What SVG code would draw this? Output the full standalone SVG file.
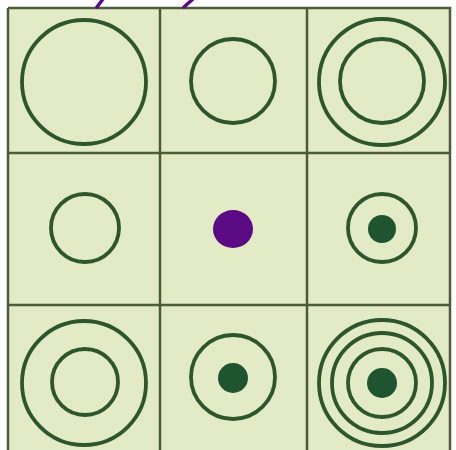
<svg xmlns="http://www.w3.org/2000/svg" width="456" height="450" viewBox="0 0 456 450">
<style>
.bg{fill:#e3ebc6}
.grid{stroke:#4a5c3a;stroke-width:2.5;fill:none}
.ring{fill:none;stroke:#2e562c;stroke-width:3.8}
.dot{fill:#1e5530}
.ink{stroke:#5b0a84;stroke-width:3.5;stroke-linecap:round;fill:none}
</style>
<rect x="0" y="0" width="456" height="450" fill="#ffffff"/>
<rect class="bg" x="8" y="8" width="442" height="442"/>
<g id="connectors">
<path class="grid" d="M8 8 H450 V452 M8 8 V452 M160 8 V452 M307 8 V452 M8 153 H450 M8 305 H450"/>
</g>
<g id="ink">
<path class="ink" d="M97 7 L103 -1"/>
<path class="ink" d="M184 7 L193 -1"/>
</g>
<g id="c11"><circle class="ring" cx="84" cy="82" r="62"/></g>
<g id="c12"><circle class="ring" cx="233" cy="81" r="42"/></g>
<g id="c13"><circle class="ring" cx="382" cy="82" r="63"/><circle class="ring" cx="382" cy="81" r="42"/></g>
<g id="c21"><circle class="ring" cx="85" cy="228" r="34"/></g>
<g id="c22"><ellipse cx="233" cy="229" rx="20" ry="19" fill="#5a0a82"/></g>
<g id="c23"><circle class="ring" cx="382" cy="228" r="34"/><circle class="dot" cx="382" cy="229" r="14"/></g>
<g id="c31"><circle class="ring" cx="84" cy="383" r="62"/><circle class="ring" cx="85" cy="382" r="33"/></g>
<g id="c32"><circle class="ring" cx="233" cy="377" r="42"/><circle class="dot" cx="233" cy="378" r="15"/></g>
<g id="c33"><circle class="ring" cx="382" cy="383" r="63"/><circle class="ring" cx="382" cy="383" r="50"/><circle class="ring" cx="382" cy="383" r="34"/><circle class="dot" cx="382" cy="383" r="15"/></g>
</svg>
